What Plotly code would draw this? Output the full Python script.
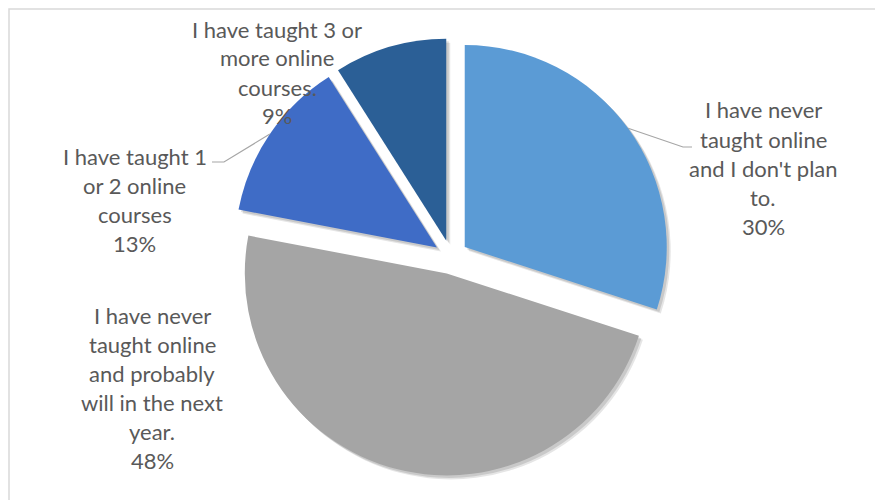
import math
import plotly.graph_objects as go

# page body has an 8px margin; target coordinates are measured in window pixels
OFF = 8
W, H = 883 - OFF, 500 - OFF

# ---- data ----
categories = [
    "I have never taught online and I don't plan to.",
    "I have never taught online and probably will in the next year.",
    "I have taught 1 or 2 online courses",
    "I have taught 3 or more online courses.",
]
values = [30, 48, 13, 9]
label_lines = [
    ["I have never", "taught online", "and I don't plan", "to."],
    ["I have never", "taught online", "and probably", "will in the next", "year."],
    ["I have taught 1", "or 2 online", "courses"],
    ["I have taught 3 or", "more online", "courses."],
]

# ---- style ----
colors = ["#5b9bd5", "#a5a5a5", "#3f6cc6", "#2b5f96"]
text_color = "#595959"
font_family = "Lato"
font_size = 22
line_step = 29
# label block centre x and first-line y (window pixels)
label_pos = [(763, 110), (152, 315), (135, 156), (277, 29)]
pull = 0.084
cx_px, cy_px, r_px = 451.0, 257.0, 202.0
box = 2 * r_px * (1 + pull)


def px(x):
    return (x - OFF) / W


def py(y):
    return 1 - (y - OFF) / H


domain = dict(x=[px(cx_px - box / 2), px(cx_px + box / 2)],
              y=[py(cy_px + box / 2), py(cy_px - box / 2)])

fig = go.Figure()

# soft shadow layers
for off, alpha in [(4, 0.10), (2.5, 0.12)]:
    fig.add_trace(go.Pie(
        values=values, labels=categories, sort=False, direction="clockwise",
        rotation=0, pull=[pull] * len(values), textinfo="none", hoverinfo="skip",
        marker=dict(colors=[f"rgba(0,0,0,{alpha})"] * len(values), line=dict(width=0)),
        domain=dict(x=[px(cx_px - box / 2 + off), px(cx_px + box / 2 + off)],
                    y=[py(cy_px + box / 2 + off), py(cy_px - box / 2 + off)]),
        showlegend=False,
    ))

fig.add_trace(go.Pie(
    values=values, labels=categories, sort=False, direction="clockwise",
    rotation=0, pull=[pull] * len(values), textinfo="none", hoverinfo="label+percent",
    marker=dict(colors=colors, line=dict(width=0)),
    domain=domain, showlegend=False,
))

# labels
total = sum(values)
annotations = []
for lines, v, (lx, ly) in zip(label_lines, values, label_pos):
    all_lines = lines + [f"{v / total * 100:.0f}%"]
    for i, t in enumerate(all_lines):
        annotations.append(dict(
            x=px(lx), y=py(ly + i * line_step), xref="paper", yref="paper",
            text=t, showarrow=False, xanchor="center", yanchor="middle",
            font=dict(family=font_family, size=font_size, color=text_color),
        ))

# leader lines, from the outer arc at each slice's mid-angle
shapes = []
cum = 0
mid_pts = []
for v in values:
    a0 = cum / total * 2 * math.pi
    a1 = (cum + v) / total * 2 * math.pi
    m = (a0 + a1) / 2
    cum += v
    ox = cx_px + pull * r_px * math.sin(m)
    oy = cy_px - pull * r_px * math.cos(m)
    mid_pts.append((ox + r_px * math.sin(m), oy - r_px * math.cos(m)))

leaders = {0: [(683, 147), (692, 147)], 2: [(224, 162), (212, 162)]}
for idx, pts in leaders.items():
    sx, sy = mid_pts[idx]
    path = f"M {px(sx)} {py(sy)}" + "".join(f" L {px(x)} {py(y)}" for x, y in pts)
    shapes.append(dict(type="path", xref="paper", yref="paper", path=path,
                       line=dict(color="#a6a6a6", width=1.2)))

# chart frame (left and top edges visible in the window)
shapes.append(dict(type="rect", xref="paper", yref="paper",
                   x0=px(9), y0=py(520), x1=px(900), y1=py(9),
                   line=dict(color="#d9d9d9", width=1.5), fillcolor="rgba(0,0,0,0)",
                   layer="below"))

fig.update_layout(
    width=W, height=H, margin=dict(l=0, r=0, t=0, b=0),
    paper_bgcolor="white", plot_bgcolor="white",
    annotations=annotations, shapes=shapes, showlegend=False,
)

fig.write_html("out.html")
